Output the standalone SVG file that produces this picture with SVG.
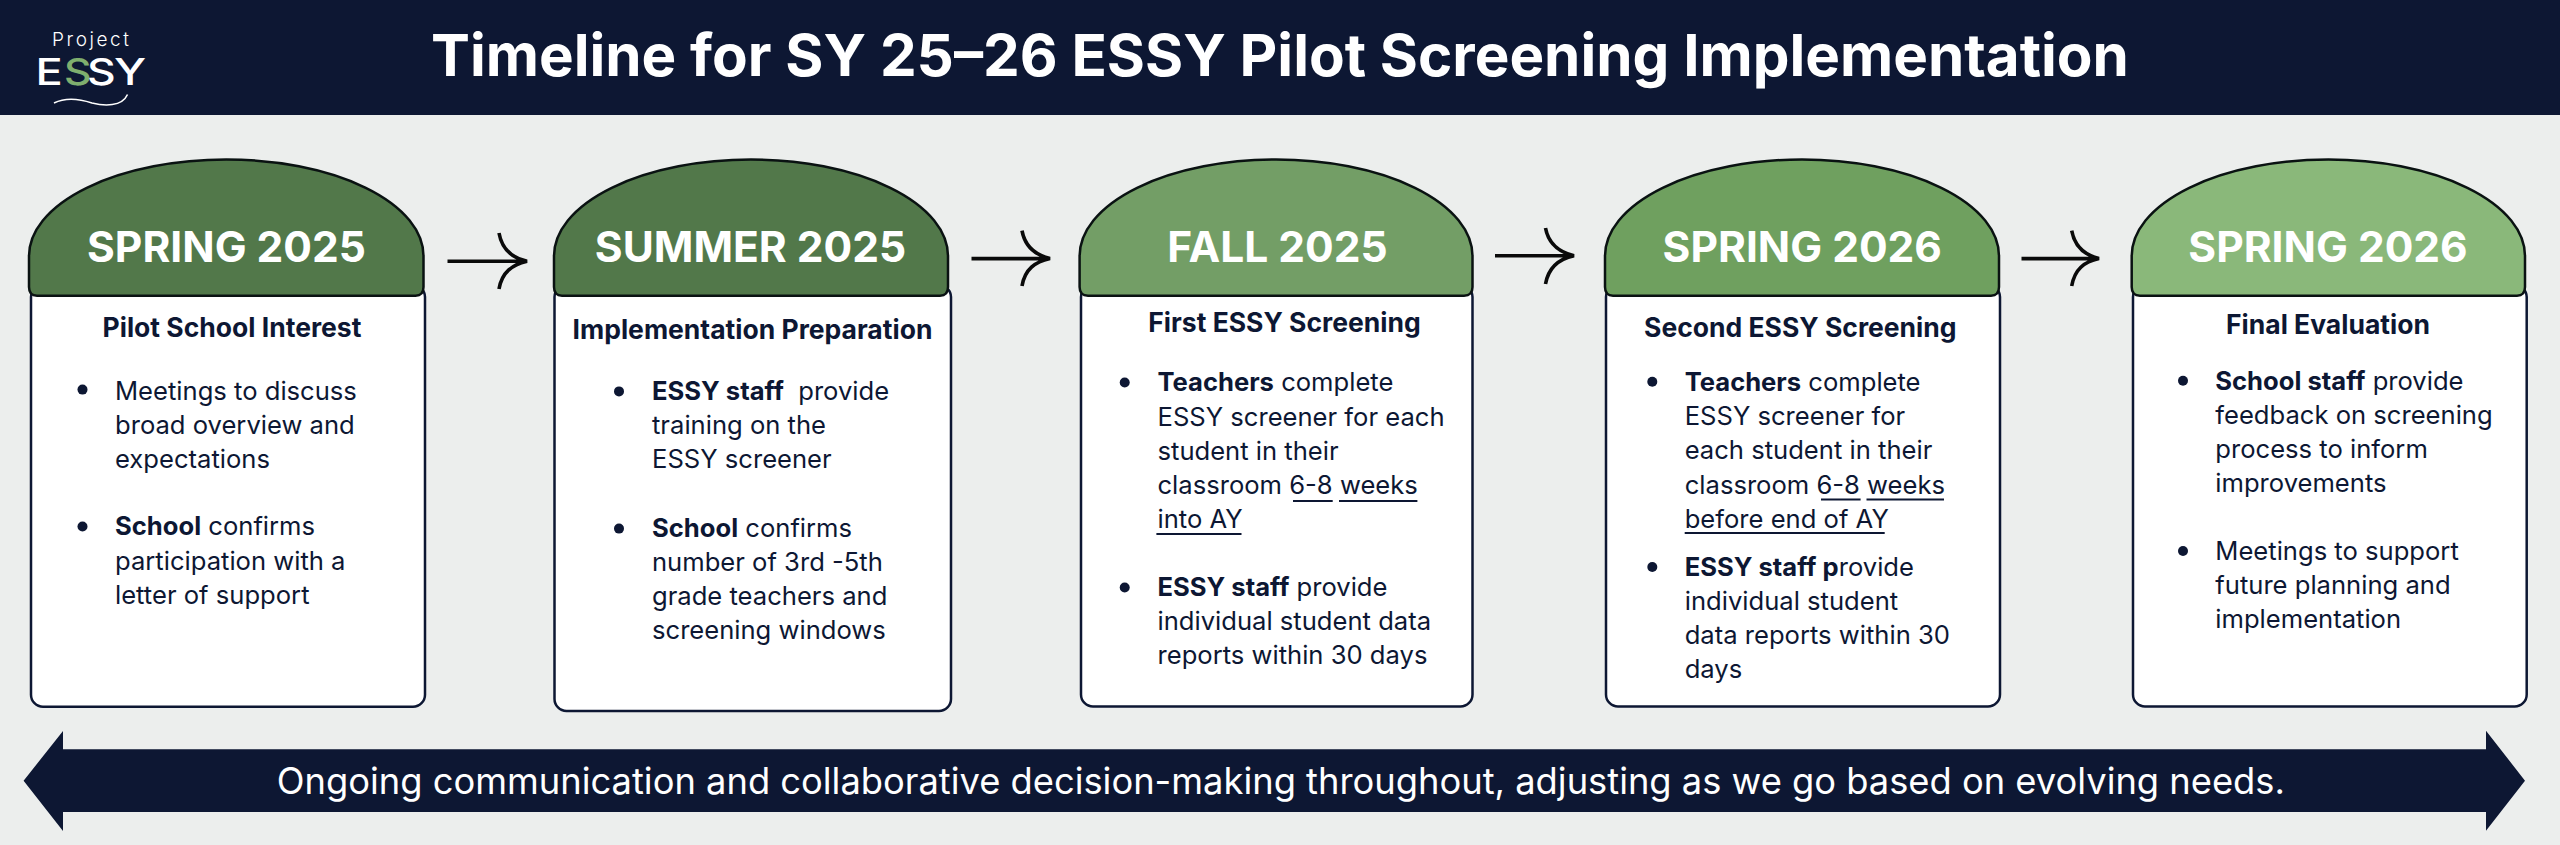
<svg xmlns="http://www.w3.org/2000/svg" width="2560" height="845" viewBox="0 0 2560 845">
<style>
text{font-family:Inter,"Noto Sans","Liberation Sans",sans-serif;fill:#0D1733}
.title{font-size:58.300px;font-weight:700;fill:#fff}
.season{font-size:42.500px;font-weight:700;fill:#fff;text-anchor:middle}
.head{font-size:26.500px;font-weight:700;text-anchor:middle}
.b{font-size:25.600px}
.b tspan{font-weight:700}
.body{fill:#fff;stroke:#0D1733;stroke-width:2.500}
.dome{stroke:#0a1212;stroke-width:2.500}
.dot{fill:#0D1733}
.ul{stroke:#0D1733;stroke-width:2.200}
.arrow{fill:none;stroke:#0a0a0a;stroke-width:3.600}
.lg{font-size:37px;font-weight:500;fill:#fff}
</style>
<rect width="2560" height="845" fill="#ECEEED"/>
<rect id="header-bar" width="2560" height="115" fill="#0D1733"/>
<text class="title" x="431" y="76">Timeline for SY 25–26 ESSY Pilot Screening Implementation</text>
<g id="logo">
<text x="52" y="46" textLength="77" lengthAdjust="spacing" style="font-weight:300;font-size:19px;fill:#fff">Project</text>
<text class="lg" transform="translate(35.500 84.500) scale(1.22 1)">E</text>
<text class="lg" transform="translate(64 84.500) scale(1.15 1)" style="fill:#7FAE6E">S</text>
<text class="lg" transform="translate(87 84.500) scale(1.2 1)">S</text>
<text class="lg" transform="translate(114 84.500) scale(1.25 1)">Y</text>
<path d="M54 103C66 97 80 99 92 103C104 106 122 107 127.500 94.500" fill="none" stroke="#fff" stroke-width="1.600"/>
</g>

<g id="connectors">
<path class="arrow" d="M447.500 261.300H527M499 233C502 250 512 258 527 261.300C512 265 502 272 499 289"/>
<path class="arrow" d="M971.500 258.600H1050M1022 230.700C1025 247 1035 255 1050 258.600C1035 262 1025 269 1022 286"/>
<path class="arrow" d="M1495 255.700H1574M1545.500 228C1548.500 244 1558.500 252 1574 255.700C1558.500 259 1548.500 267 1545.500 284"/>
<path class="arrow" d="M2021.500 258.600H2099M2071.700 230.700C2074.700 247 2084 255 2099 258.600C2084 262 2074.700 269 2071.700 286"/>
</g>

<g id="card-1">
<rect class="body" x="31" y="285" width="394" height="421.700" rx="12"/>
<path class="dome" fill="#52784A" d="M37 295.700Q29 295.700 29 287V256A197.250 96.500 0 0 1 423.500 256V287Q423.500 295.700 415.500 295.700Z"/>
<text class="season" x="226.500" y="262">SPRING 2025</text>
<text class="head" x="232" y="337">Pilot School Interest</text>
<circle class="dot" cx="82.500" cy="389.600" r="5"/><circle class="dot" cx="82.500" cy="526.500" r="5"/>
<text class="b" x="115" y="399.500">Meetings to discuss</text>
<text class="b" x="115" y="433.800">broad overview and</text>
<text class="b" x="115" y="468">expectations</text>
<text class="b" x="115" y="535"><tspan>School</tspan> confirms</text>
<text class="b" x="115" y="569.500">participation with a</text>
<text class="b" x="115" y="604">letter of support</text>
</g>

<g id="card-2">
<rect class="body" x="554.500" y="285" width="396.500" height="426" rx="12"/>
<path class="dome" fill="#52784A" d="M562 295.700Q554 295.700 554 287V256A197 96.500 0 0 1 948 256V287Q948 295.700 940 295.700Z"/>
<text class="season" x="750.500" y="262">SUMMER 2025</text>
<text class="head" x="752.500" y="339">Implementation Preparation</text>
<circle class="dot" cx="619" cy="391.400" r="5"/><circle class="dot" cx="619" cy="528.600" r="5"/>
<text class="b" x="652" y="399.600"><tspan>ESSY staff</tspan>&#160; provide</text>
<text class="b" x="652" y="434">training on the</text>
<text class="b" x="652" y="468">ESSY screener</text>
<text class="b" x="652" y="536.700"><tspan>School</tspan> confirms</text>
<text class="b" x="652" y="571">number of 3rd -5th</text>
<text class="b" x="652" y="605">grade teachers and</text>
<text class="b" x="652" y="639">screening windows</text>
</g>

<g id="card-3">
<rect class="body" x="1081" y="285" width="391.500" height="421.400" rx="12"/>
<path class="dome" fill="#739E66" d="M1088 295.700Q1079.600 295.700 1079.600 287V256A196.450 96.500 0 0 1 1472.500 256V287Q1472.500 295.700 1464 295.700Z"/>
<text class="season" x="1277.500" y="262">FALL 2025</text>
<text class="head" x="1284.500" y="332">First ESSY Screening</text>
<circle class="dot" cx="1124.700" cy="382.500" r="5"/><circle class="dot" cx="1124.700" cy="587.500" r="5"/>
<text class="b" x="1157.500" y="391"><tspan>Teachers</tspan> complete</text>
<text class="b" x="1157.500" y="425.600">ESSY screener for each</text>
<text class="b" x="1157.500" y="459.600">student in their</text>
<text class="b" x="1157.500" y="494">classroom 6-8 weeks</text>
<text class="b" x="1157.500" y="528">into AY</text>
<path class="ul" d="M1293 501H1332.700M1339 501H1417.400M1156.400 534H1241.500"/>
<text class="b" x="1157.500" y="596"><tspan>ESSY staff</tspan> provide</text>
<text class="b" x="1157.500" y="630">individual student data</text>
<text class="b" x="1157.500" y="664">reports within 30 days</text>
</g>

<g id="card-4">
<rect class="body" x="1606" y="285" width="394" height="421.400" rx="12"/>
<path class="dome" fill="#6FA05F" d="M1613 295.700Q1605 295.700 1605 287V256A197 96.500 0 0 1 1999 256V287Q1999 295.700 1991 295.700Z"/>
<text class="season" x="1802.300" y="262">SPRING 2026</text>
<text class="head" x="1800.300" y="337">Second ESSY Screening</text>
<circle class="dot" cx="1652.300" cy="381.800" r="5"/><circle class="dot" cx="1652.300" cy="567" r="5"/>
<text class="b" x="1684.700" y="391.400"><tspan>Teachers</tspan> complete</text>
<text class="b" x="1684.700" y="425.300">ESSY screener for</text>
<text class="b" x="1684.700" y="459">each student in their</text>
<text class="b" x="1684.700" y="494">classroom 6-8 weeks</text>
<text class="b" x="1684.700" y="528">before end of AY</text>
<path class="ul" d="M1821 499.500H1860.600M1866.500 499.500H1944M1684.700 533H1884.700"/>
<text class="b" x="1684.700" y="576"><tspan>ESSY staff p</tspan>rovide</text>
<text class="b" x="1684.700" y="610">individual student</text>
<text class="b" x="1684.700" y="644">data reports within 30</text>
<text class="b" x="1684.700" y="678">days</text>
</g>

<g id="card-5">
<rect class="body" x="2133" y="285" width="393.700" height="421.400" rx="12"/>
<path class="dome" fill="#8AB87A" d="M2140 295.700Q2131.700 295.700 2131.700 287V256A196.650 96.500 0 0 1 2525 256V287Q2525 295.700 2517 295.700Z"/>
<text class="season" x="2328" y="262">SPRING 2026</text>
<text class="head" x="2328" y="334">Final Evaluation</text>
<circle class="dot" cx="2183" cy="380.700" r="5"/><circle class="dot" cx="2183" cy="551" r="5"/>
<text class="b" x="2215.300" y="389.600"><tspan>School staff</tspan> provide</text>
<text class="b" x="2215.300" y="424">feedback on screening</text>
<text class="b" x="2215.300" y="458">process to inform</text>
<text class="b" x="2215.300" y="492">improvements</text>
<text class="b" x="2215.300" y="560">Meetings to support</text>
<text class="b" x="2215.300" y="594">future planning and</text>
<text class="b" x="2215.300" y="628">implementation</text>
</g>

<g id="ongoing-arrow">
<path fill="#0D1733" d="M23.600 780.700L63 731V749.300H2486V730.700L2525 780.700L2486 830.700V812H63V831Z"/>
<text x="276.800" y="793.500" style="font-size:36.300px;fill:#fff">Ongoing communication and collaborative decision-making throughout, adjusting as we go based on evolving needs.</text>
</g>
</svg>
